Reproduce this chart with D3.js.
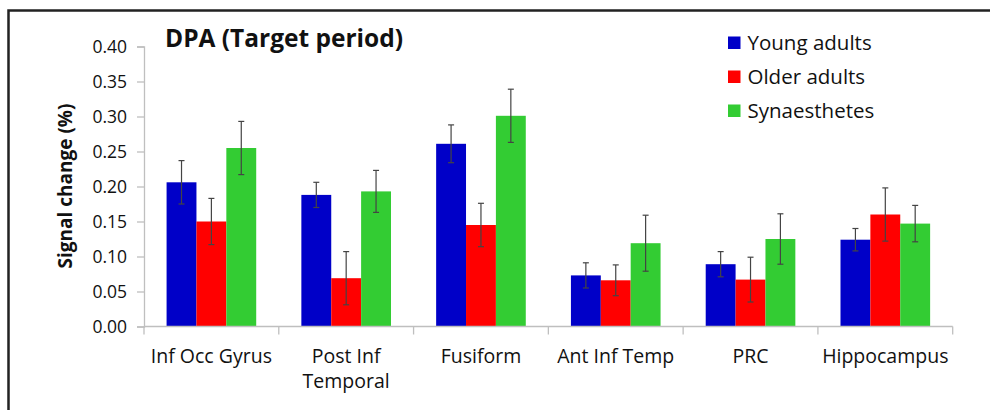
<!DOCTYPE html>
<html>
<head>
<meta charset="utf-8">
<script src="https://cdn.jsdelivr.net/npm/d3@7"></script>
<style>
  body { margin: 0; background: #fff; }
  text { font-family: "Open Sans", Lato, sans-serif; fill: #111; }
</style>
</head>
<body>
<div id="chart"></div>
<script>
// regions and groups
var regions = ["Inf Occ Gyrus", "Post Inf|Temporal", "Fusiform", "Ant Inf Temp", "PRC", "Hippocampus"];
var groups = ["Young adults", "Older adults", "Synaesthetes"];
var colors = ["#0000c8", "#ff0000", "#33cc33"];

// mean signal change per region, one array per group
var young = [0.206, 0.188, 0.261, 0.073, 0.089, 0.124];
var older = [0.150, 0.069, 0.145, 0.066, 0.067, 0.160];
var synaes = [0.255, 0.193, 0.301, 0.119, 0.125, 0.147];

// error bar half-widths
var youngErr = [0.031, 0.018, 0.027, 0.018, 0.018, 0.016];
var olderErr = [0.033, 0.038, 0.031, 0.022, 0.032, 0.038];
var synaesErr = [0.038, 0.030, 0.038, 0.040, 0.036, 0.026];

var yTicks = [0, 0.05, 0.10, 0.15, 0.20, 0.25, 0.30, 0.35, 0.40];

var values = [young, older, synaes];
var errs = [youngErr, olderErr, synaesErr];

var W = 990, H = 410;
var svg = d3.select("#chart").append("svg")
    .attr("width", W)
    .attr("height", H);

// frame (top and left edges visible)
svg.append("path")
    .attr("d", "M8.5,410 V10.5 H990")
    .attr("fill", "none")
    .attr("stroke", "#222")
    .attr("stroke-width", 2.5);

var x0 = d3.scaleBand()
    .domain(regions)
    .range([144, 952.7])
    .paddingInner(0.335)
    .paddingOuter(0.1675);

var x1 = d3.scaleBand()
    .domain(groups)
    .range([0, x0.bandwidth()]);

var y = d3.scaleLinear()
    .domain([0, 0.4])
    .range([326.5, 46.5]);

// y axis
var yAxis = svg.append("g")
    .attr("transform", "translate(144,0)")
    .call(d3.axisLeft(y).tickValues(yTicks).tickSize(7).tickPadding(10).tickFormat(d3.format(".2f")));
yAxis.select(".domain").attr("stroke", "#bfbfbf").attr("stroke-width", 1.3);
yAxis.selectAll(".tick line").attr("stroke", "#bfbfbf").attr("stroke-width", 1.3);
yAxis.selectAll(".tick text")
    .attr("font-size", 17.5)
    .attr("font-family", "'Open Sans', sans-serif")
    .attr("fill", "#111");

// bars
var band = svg.append("g");
groups.forEach(function (g, gi) {
  band.selectAll(".bar" + gi)
    .data(regions)
    .enter()
    .append("rect")
      .attr("x", function (d) { return x0(d) + x1(g); })
      .attr("y", function (d, i) { return y(values[gi][i]); })
      .attr("width", x1.bandwidth())
      .attr("height", function (d, i) { return y(0) - y(values[gi][i]); })
      .attr("fill", colors[gi]);
});

// x axis (drawn over bars base)
var xAxis = svg.append("g")
    .attr("transform", "translate(0," + y(0) + ")");
xAxis.append("line")
    .attr("x1", 144).attr("x2", 952.7)
    .attr("stroke", "#bfbfbf").attr("stroke-width", 1.3);
var bounds = regions.map(function (d) { return x0(d) - x0.step() * x0.paddingInner() / 2; });
bounds.push(952.7);
xAxis.selectAll(".xt")
    .data(bounds)
    .enter()
    .append("line")
      .attr("x1", function (d) { return d; })
      .attr("x2", function (d) { return d; })
      .attr("y1", 0).attr("y2", 8)
      .attr("stroke", "#bfbfbf").attr("stroke-width", 1.3);

// error bars
var eb = svg.append("g").attr("stroke", "#444").attr("stroke-width", 1.2);
groups.forEach(function (g, gi) {
  regions.forEach(function (r, i) {
    var cx = x0(r) + x1(g) + x1.bandwidth() / 2;
    var hi = y(values[gi][i] + errs[gi][i]);
    var lo = y(values[gi][i] - errs[gi][i]);
    eb.append("line").attr("x1", cx).attr("x2", cx).attr("y1", hi).attr("y2", lo);
    eb.append("line").attr("x1", cx - 3).attr("x2", cx + 3).attr("y1", hi).attr("y2", hi);
    eb.append("line").attr("x1", cx - 3).attr("x2", cx + 3).attr("y1", lo).attr("y2", lo);
  });
});

// category labels
svg.append("g").selectAll("text")
    .data(regions)
    .enter()
    .append("text")
      .attr("x", function (d) { return x0(d) + x0.bandwidth() / 2; })
      .attr("y", 363)
      .attr("text-anchor", "middle")
      .attr("font-size", 19.5)
      .each(function (d) {
        var parts = d.split("|");
        var t = d3.select(this);
        parts.forEach(function (p, k) {
          t.append("tspan")
            .attr("x", t.attr("x"))
            .attr("dy", k === 0 ? 0 : 25)
            .text(p);
        });
      });

// title
svg.append("text")
    .attr("x", 165)
    .attr("y", 47)
    .attr("font-size", 24.5)
    .attr("font-weight", "bold")
    .text("DPA (Target period)");

// y axis title
svg.append("text")
    .attr("transform", "translate(72,186) rotate(-90)")
    .attr("text-anchor", "middle")
    .attr("font-size", 19)
    .attr("font-weight", "bold")
    .text("Signal change (%)");

// legend
var legend = svg.append("g").attr("transform", "translate(728,0)");
groups.forEach(function (g, gi) {
  var cy = 43 + gi * 34;
  legend.append("rect")
    .attr("x", 0).attr("y", cy - 6.5)
    .attr("width", 12.5).attr("height", 12.5)
    .attr("fill", colors[gi]);
  legend.append("text")
    .attr("x", 19.5).attr("y", cy + 7)
    .attr("font-size", 20.5)
    .text(g);
});
</script>
</body>
</html>
